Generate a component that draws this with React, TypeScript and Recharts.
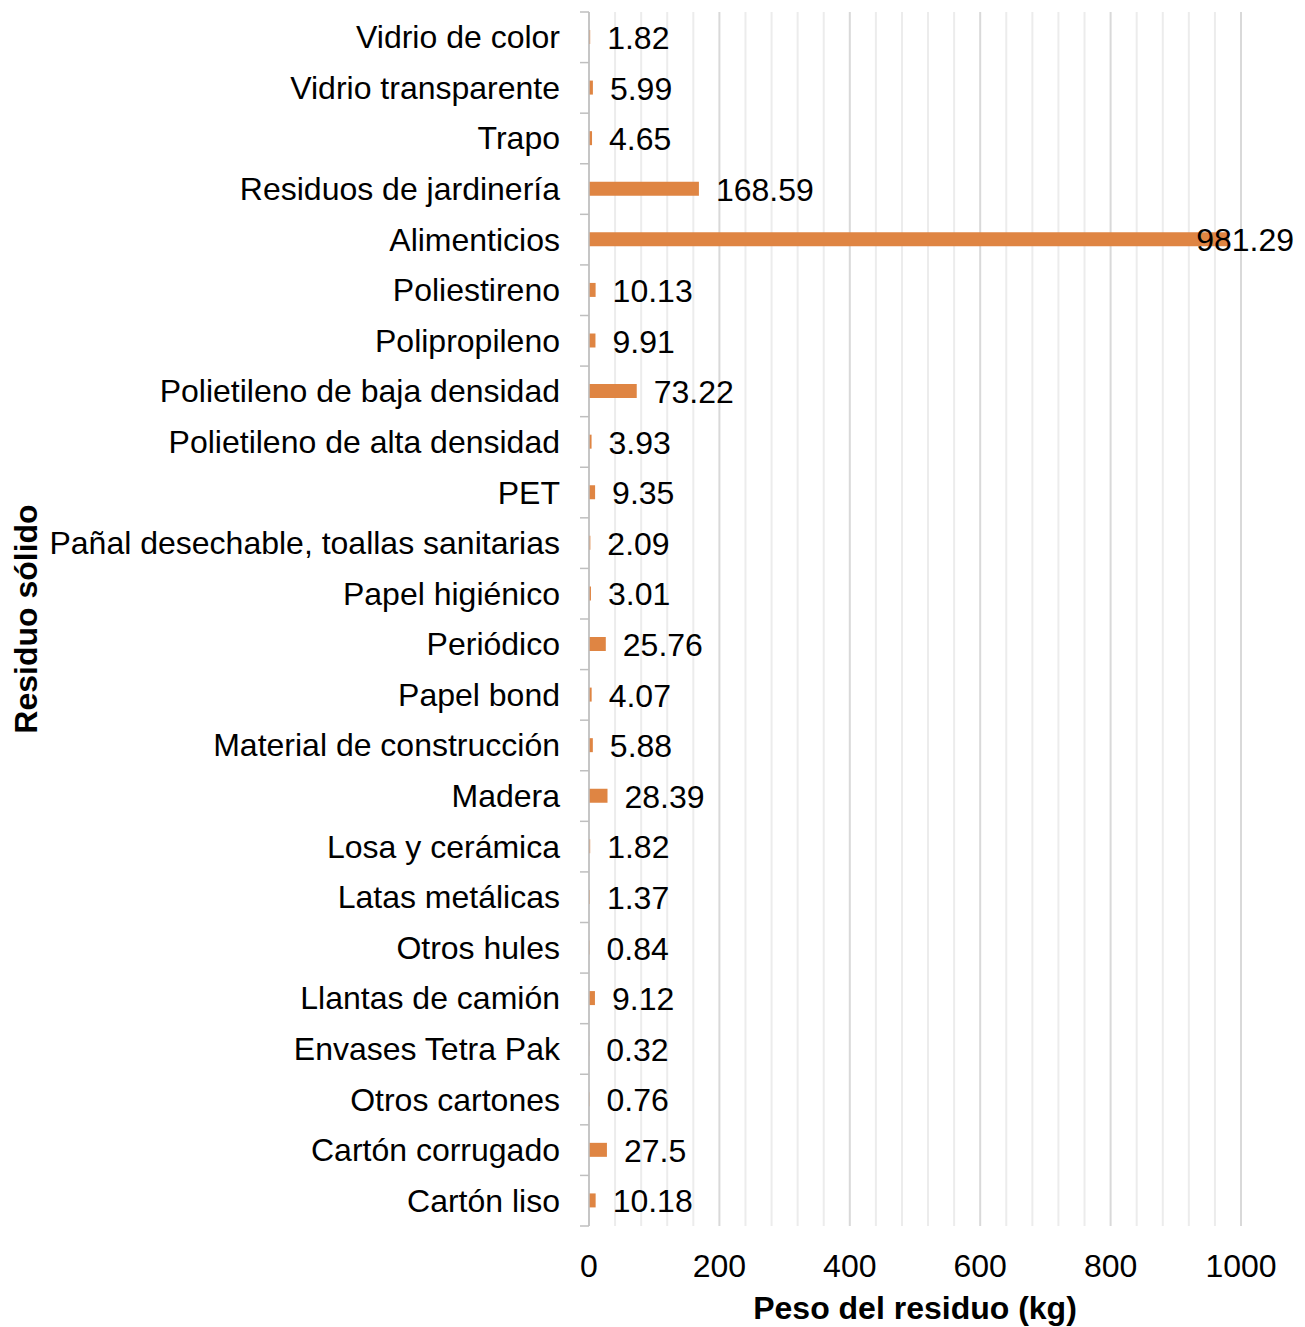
import { Bar, BarChart, CartesianGrid, LabelList, XAxis, YAxis } from 'recharts'

// sin margen del body
if (typeof document !== 'undefined') document.body.style.margin = '0'

const residuos = [
  'Vidrio de color',
  'Vidrio transparente',
  'Trapo',
  'Residuos de jardinería',
  'Alimenticios',
  'Poliestireno',
  'Polipropileno',
  'Polietileno de baja densidad',
  'Polietileno de alta densidad',
  'PET',
  'Pañal desechable, toallas sanitarias',
  'Papel higiénico',
  'Periódico',
  'Papel bond',
  'Material de construcción',
  'Madera',
  'Losa y cerámica',
  'Latas metálicas',
  'Otros hules',
  'Llantas de camión',
  'Envases Tetra Pak',
  'Otros cartones',
  'Cartón corrugado',
  'Cartón liso',
]

const pesos = [
  1.82, 5.99, 4.65, 168.59, 981.29, 10.13, 9.91, 73.22, 3.93, 9.35, 2.09, 3.01,
  25.76, 4.07, 5.88, 28.39, 1.82, 1.37, 0.84, 9.12, 0.32, 0.76, 27.5, 10.18,
]

const X_MAX = 1000
const ticksMayores = [0, 200, 400, 600, 800, 1000]
const ticksMenores = [
  40, 80, 120, 160, 240, 280, 320, 360, 440, 480, 520, 560,
  640, 680, 720, 760, 840, 880, 920, 960,
]

const data = residuos.map((name, i) => ({ name, peso: pesos[i] }))

const WIDTH = 1305
const HEIGHT = 1327
const TOP = 12
const AXIS_H = 101
const Y_W = 589
const RIGHT = 64
const BAND = (HEIGHT - TOP - AXIS_H) / residuos.length

const FONT = '"Liberation Sans", Arial, sans-serif'
const FS = 32
const NARANJA = '#df8543'

// líneas menores: usa la escala del eje si existe, si no el área del gráfico
function lineasMenores(args: any) {
  const { xAxis, offset } = args
  if (xAxis && typeof xAxis.scale === 'function') return ticksMenores.map((t) => xAxis.scale(t))
  return ticksMenores.map((t) => offset.left + (offset.width * t) / X_MAX)
}

function CategoriaTick(props: any) {
  const { x, y, payload, index } = props
  const last = index === residuos.length - 1
  return (
    <g>
      <line x1={x - 9} x2={x} y1={y - BAND / 2} y2={y - BAND / 2} stroke="#bfbfbf" strokeWidth={1.5} />
      {last && <line x1={x - 9} x2={x} y1={y + BAND / 2} y2={y + BAND / 2} stroke="#bfbfbf" strokeWidth={1.5} />}
      <text x={x - 29} y={y} textAnchor="end" dominantBaseline="central" fontSize={FS} fill="#000" fontFamily={FONT}>
        {payload.value}
      </text>
    </g>
  )
}

function ValorLabel(props: any) {
  const { x, y, width, height, value } = props
  const end = x + width
  const overflow = end + 17 + 98 > WIDTH - 8
  return (
    <text
      x={overflow ? WIDTH - 11 : end + 17}
      y={y + height / 2 + 1}
      textAnchor={overflow ? 'end' : 'start'}
      dominantBaseline="central"
      fontSize={FS}
      fill="#000"
      fontFamily={FONT}
    >
      {value}
    </text>
  )
}

export default function App() {
  return (
    <div style={{ width: WIDTH, height: HEIGHT, background: '#fff', fontFamily: FONT }}>
      <BarChart
        width={WIDTH}
        height={HEIGHT}
        data={data}
        layout="vertical"
        margin={{ top: TOP, right: RIGHT, bottom: 0, left: 0 }}
        barCategoryGap={0}
      >
        {/* cuadrícula menor cada 40 */}
        <CartesianGrid
          horizontal={false}
          stroke="#ececec"
          strokeWidth={2}
          verticalCoordinatesGenerator={lineasMenores}
        />
        <CartesianGrid horizontal={false} stroke="#d9d9d9" strokeWidth={2} />
        <XAxis
          type="number"
          domain={[0, X_MAX]}
          ticks={ticksMayores}
          axisLine={false}
          tickLine={false}
          tickSize={0}
          tickMargin={28}
          height={AXIS_H}
          tick={{ fontSize: FS, fill: '#000', fontFamily: FONT }}
          label={{
            value: 'Peso del residuo (kg)',
            position: 'insideBottom',
            offset: 8,
            style: { fontSize: FS, fontWeight: 'bold', fill: '#000', fontFamily: FONT },
          }}
        />
        <YAxis
          type="category"
          dataKey="name"
          width={Y_W}
          axisLine={{ stroke: '#bfbfbf', strokeWidth: 1.5 }}
          tickLine={false}
          tickSize={0}
          tickMargin={0}
          interval={0}
          tick={<CategoriaTick />}
          label={{
            content: () => (
              <text
                x={37}
                y={TOP + (HEIGHT - TOP - AXIS_H) / 2}
                transform={`rotate(-90 37 ${TOP + (HEIGHT - TOP - AXIS_H) / 2})`}
                textAnchor="middle"
                fontSize={FS}
                fontWeight="bold"
                fill="#000"
                fontFamily={FONT}
              >
                Residuo sólido
              </text>
            ),
          }}
        />
        <Bar dataKey="peso" fill={NARANJA} barSize={14} isAnimationActive={false}>
          <LabelList dataKey="peso" content={<ValorLabel />} />
        </Bar>
      </BarChart>
    </div>
  )
}
